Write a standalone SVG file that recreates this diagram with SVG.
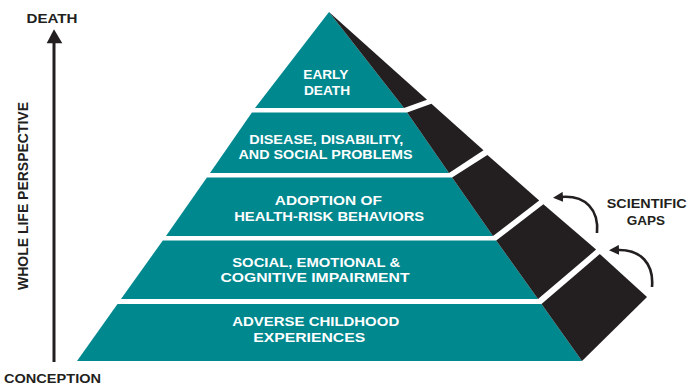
<svg xmlns="http://www.w3.org/2000/svg" width="688" height="388" viewBox="0 0 688 388">
<defs>
<style>
.teal{fill:#00888f}
.side{fill:#231f20}
.lbl{font-family:"Liberation Sans",Arial,sans-serif;font-weight:700;font-size:13px;fill:#ffffff;text-anchor:middle}
.dark{font-family:"Liberation Sans",Arial,sans-serif;font-weight:700;font-size:13px;fill:#231f20;text-anchor:middle}
.conn{fill:none;stroke:#231f20;stroke-width:2.6}
</style>
<marker id="ah" viewBox="0 0 10 10" refX="2" refY="5" markerWidth="10" markerHeight="10" markerUnits="userSpaceOnUse" orient="auto">
<path d="M0,0 L10,5 L0,10 z" fill="#231f20"/>
</marker>
</defs>
<rect width="688" height="388" fill="#ffffff"/>

<g id="band-early-death">
<polygon class="teal" points="329,12 404,108 255,108"/>
<polygon class="side" points="329,12 427,99.7 404,108"/>
<text class="lbl" x="325.8" y="78.7" textLength="45" lengthAdjust="spacingAndGlyphs">EARLY</text>
<text class="lbl" x="327" y="94.7" textLength="46" lengthAdjust="spacingAndGlyphs">DEATH</text>
</g>

<g id="band-disease">
<polygon class="teal" points="251.9,112.5 407.1,112.5 449,173 210,173"/>
<polygon class="side" points="407.1,112.5 431.4,103.8 483.5,150.3 449,173"/>
<text class="lbl" x="326.3" y="144" textLength="154" lengthAdjust="spacingAndGlyphs">DISEASE, DISABILITY,</text>
<text class="lbl" x="325.5" y="159.3" textLength="174" lengthAdjust="spacingAndGlyphs">AND SOCIAL PROBLEMS</text>
</g>

<g id="band-adoption">
<polygon class="teal" points="206.9,177.5 452.1,177.5 493,236 166,236"/>
<polygon class="side" points="452.1,177.5 487.4,154.9 539.2,200.4 493,236"/>
<text class="lbl" x="328.3" y="205" textLength="107" lengthAdjust="spacingAndGlyphs">ADOPTION OF</text>
<text class="lbl" x="329.2" y="220.7" textLength="190" lengthAdjust="spacingAndGlyphs">HEALTH-RISK BEHAVIORS</text>
</g>

<g id="band-impairment">
<polygon class="teal" points="162.8,240.5 496.2,240.5 538,299 121,299"/>
<polygon class="side" points="496.2,240.5 543.4,204.2 596.1,249.6 538,299"/>
<text class="lbl" x="316.2" y="267" textLength="168" lengthAdjust="spacingAndGlyphs">SOCIAL, EMOTIONAL &amp;</text>
<text class="lbl" x="315" y="282.3" textLength="189" lengthAdjust="spacingAndGlyphs">COGNITIVE IMPAIRMENT</text>
</g>

<g id="band-ace">
<polygon class="teal" points="117.5,304 541.5,304 582,361 77,361"/>
<polygon class="side" points="541.5,304 599.8,254.1 647,297 582,361"/>
<text class="lbl" x="315.7" y="325.7" textLength="167" lengthAdjust="spacingAndGlyphs">ADVERSE CHILDHOOD</text>
<text class="lbl" x="309.2" y="341.7" textLength="112" lengthAdjust="spacingAndGlyphs">EXPERIENCES</text>
</g>

<g id="axis-labels">
<text class="dark" x="52" y="22.7" style="font-size:12px" textLength="51" lengthAdjust="spacingAndGlyphs">DEATH</text>
<text class="dark" x="52.5" y="382.7" textLength="97" lengthAdjust="spacingAndGlyphs">CONCEPTION</text>
<text class="dark" transform="translate(28.3,196) rotate(-90)" x="0" y="0" style="font-size:15px" textLength="188" lengthAdjust="spacingAndGlyphs">WHOLE LIFE PERSPECTIVE</text>
</g>

<g id="scientific-gaps">
<text class="dark" x="646.7" y="208.3" textLength="80" lengthAdjust="spacingAndGlyphs">SCIENTIFIC</text>
<text class="dark" x="645.8" y="225" textLength="38.3" lengthAdjust="spacingAndGlyphs">GAPS</text>
</g>

<g id="connectors">
<line x1="54" y1="362" x2="54" y2="40" stroke="#231f20" stroke-width="3"/>
<polygon points="54,29.3 62.3,43.3 46.7,43.3" fill="#231f20"/>
<path class="conn" d="M597,233 C599,210 586,195 561,197" marker-end="url(#ah)"/>
<path class="conn" d="M652,287 C654,264 641,249 617,250" marker-end="url(#ah)"/>
</g>
</svg>
